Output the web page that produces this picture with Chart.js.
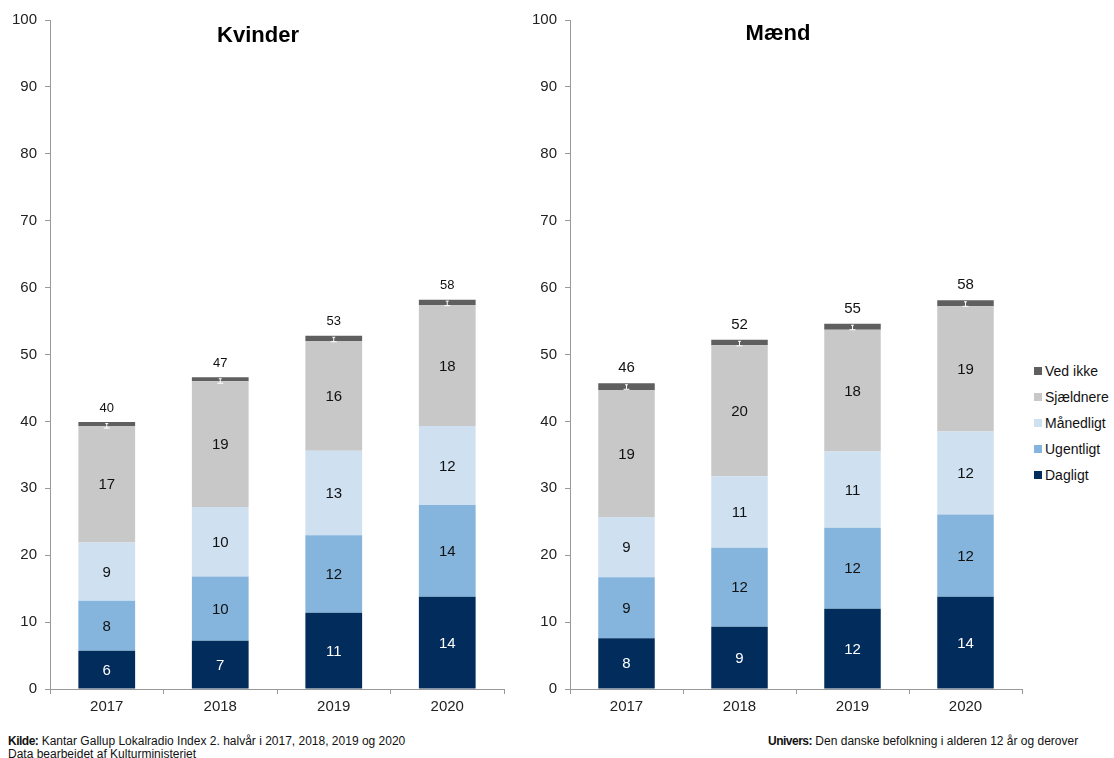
<!DOCTYPE html>
<html>
<head>
<meta charset="utf-8">
<script src="https://cdn.jsdelivr.net/npm/chart.js@4"></script>
<style>
  body { margin: 0; background: #fff; font-family: "Liberation Sans", Arial, sans-serif; width: 1114px; height: 758px; overflow: hidden; position: relative; }
  canvas { position: absolute; top: 0; }
  #kv { left: 0; }
  #md { left: 520px; }
  .title { position: absolute; font-weight: bold; font-size: 22px; color: #000; transform: translateX(-50%); }
  #legend { position: absolute; left: 1034px; top: 362px; font-size: 14px; color: #111; }
  #legend div { height: 26px; line-height: 18px; white-space: nowrap; }
  #legend span { display: inline-block; width: 8px; height: 8px; margin-right: 3px; vertical-align: 1px; }
  .foot { position: absolute; font-size: 12px; color: #111; line-height: 13px; }
  .foot b { font-weight: bold; letter-spacing: -0.5px; }
</style>
</head>
<body>
<canvas id="kv" width="512" height="725"></canvas>
<canvas id="md" width="510" height="725"></canvas>
<div class="title" style="left:258px;top:22px">Kvinder</div>
<div class="title" style="left:778px;top:20px">Mænd</div>
<div id="legend"></div>
<div class="foot" style="left:8px;top:735px"><b>Kilde:</b> Kantar Gallup Lokalradio Index 2. halvår i 2017, 2018, 2019 og 2020<br>Data bearbeidet af Kulturministeriet</div>
<div class="foot" style="left:768px;top:735px"><b>Univers:</b> Den danske befolkning i alderen 12 år og derover</div>
<script>
// data
const years = ['2017', '2018', '2019', '2020'];
const seriesNames = ['Dagligt', 'Ugentligt', 'Månedligt', 'Sjældnere', 'Ved ikke'];
const seriesColors = ['#022c5c', '#85b4dc', '#cfe0f1', '#c8c8c8', '#5f5f5f'];
const yTicks = [0, 10, 20, 30, 40, 50, 60, 70, 80, 90, 100];

const kvDagligt   = [5.7, 7.2, 11.4, 13.8];
const kvUgentligt = [7.5, 9.6, 11.6, 13.7];
const kvMaanedligt = [8.7, 10.4, 12.6, 11.8];
const kvSjaeldnere = [17.4, 18.8, 16.4, 18.1];
const kvVedIkke   = [0.6, 0.6, 0.8, 0.8];

const mdDagligt   = [7.6, 9.3, 12.0, 13.8];
const mdUgentligt = [9.1, 11.8, 12.1, 12.3];
const mdMaanedligt = [9.0, 10.7, 11.4, 12.4];
const mdSjaeldnere = [19.0, 19.6, 18.2, 18.7];
const mdVedIkke   = [1.0, 0.8, 0.9, 0.9];

const FONT = '"Liberation Sans", Arial, sans-serif';

// labels in segments, totals on top, small error mark
const segLabels = {
  id: 'segLabels',
  afterDatasetsDraw(chart, args, opts) {
    const ctx = chart.ctx;
    const ds = chart.data.datasets;
    const yScale = chart.scales.y;
    ctx.save();
    ctx.textAlign = 'center';
    ctx.textBaseline = 'middle';
    ds.forEach((d, i) => {
      if (d.label === 'Ved ikke') return;
      chart.getDatasetMeta(i).data.forEach((bar, j) => {
        ctx.fillStyle = d.label === 'Dagligt' ? '#fff' : '#111';
        ctx.font = '15px ' + FONT;
        ctx.fillText(Math.round(d.data[j]), bar.x, (bar.y + bar.base) / 2 + 1);
      });
    });
    chart.getDatasetMeta(ds.length - 1).data.forEach((bar, j) => {
      const total = ds.reduce((s, d) => s + d.data[j], 0);
      const y0 = yScale.getPixelForValue(total) + 1.5;
      const y1 = yScale.getPixelForValue(total - 0.9);
      ctx.strokeStyle = '#fff';
      ctx.lineWidth = 1;
      ctx.beginPath();
      ctx.moveTo(bar.x, y0); ctx.lineTo(bar.x, y1);
      ctx.moveTo(bar.x - 1.5, y0); ctx.lineTo(bar.x + 1.5, y0);
      ctx.moveTo(bar.x - 3, y1); ctx.lineTo(bar.x + 3, y1);
      ctx.stroke();
      ctx.fillStyle = '#111';
      ctx.font = opts.totalSize + 'px ' + FONT;
      ctx.fillText(Math.round(total), bar.x, bar.y - opts.totalGap);
    });
    ctx.restore();
  }
};

function makeChart(id, series, totalSize, totalGap) {
  return new Chart(document.getElementById(id), {
    type: 'bar',
    data: {
      labels: years,
      datasets: series.map((vals, i) => ({
        label: seriesNames[i],
        data: vals,
        backgroundColor: seriesColors[i],
        borderWidth: 0,
        barPercentage: 0.5,
        categoryPercentage: 1
      }))
    },
    options: {
      responsive: false,
      animation: false,
      layout: { padding: { top: 20, right: 8, left: 0, bottom: 0 } },
      plugins: {
        legend: { display: false },
        tooltip: { enabled: false },
        segLabels: { totalSize: totalSize, totalGap: totalGap }
      },
      scales: {
        x: {
          stacked: true,
          afterFit: s => { s.height = 36; },
          grid: { display: true, drawOnChartArea: false, drawTicks: true, tickLength: 5, color: '#999', offset: true },
          border: { display: true, color: '#999' },
          ticks: { color: '#222', font: { size: 15, family: FONT }, padding: 4 }
        },
        y: {
          stacked: true,
          min: 0, max: 100,
          afterFit: s => { s.width = 50; },
          afterBuildTicks: s => { s.ticks = yTicks.map(v => ({ value: v })); },
          grid: { display: true, drawOnChartArea: false, drawTicks: true, tickLength: 5, color: '#999' },
          border: { display: true, color: '#999' },
          ticks: { color: '#222', font: { size: 15, family: FONT }, padding: 8 }
        }
      }
    },
    plugins: [segLabels]
  });
}

makeChart('kv', [kvDagligt, kvUgentligt, kvMaanedligt, kvSjaeldnere, kvVedIkke], 13, 14);
makeChart('md', [mdDagligt, mdUgentligt, mdMaanedligt, mdSjaeldnere, mdVedIkke], 15, 15);

// legend, reversed order like the reference
const legend = document.getElementById('legend');
for (let i = seriesNames.length - 1; i >= 0; i--) {
  const row = document.createElement('div');
  row.innerHTML = '<span style="background:' + seriesColors[i] + '"></span>' + seriesNames[i];
  legend.appendChild(row);
}
</script>
</body>
</html>
